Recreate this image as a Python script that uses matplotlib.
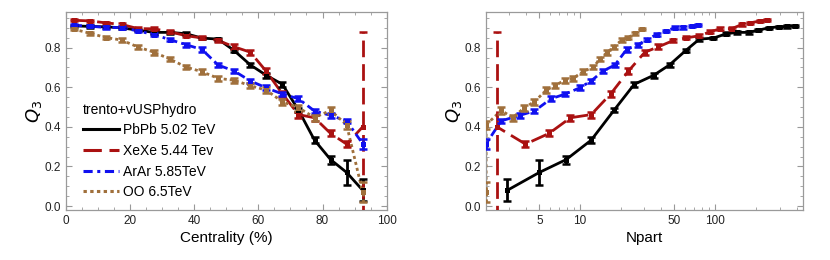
import matplotlib
matplotlib.use("Agg")
import matplotlib.pyplot as plt
from matplotlib.lines import Line2D
from matplotlib.ticker import FixedLocator, NullFormatter, FixedFormatter
import numpy as np

plt.rcParams['font.family'] = ['Liberation Sans', 'DejaVu Sans']

centrality = [2.5, 7.5, 12.5, 17.5, 22.5, 27.5, 32.5, 37.5, 42.5, 47.5,
              52.5, 57.5, 62.5, 67.5, 72.5, 77.5, 82.5, 87.5, 92.5]

labels = ["PbPb 5.02 TeV", "XeXe 5.44 Tev", "ArAr 5.85TeV", "OO 6.5TeV"]

q3_pbpb = [0.910, 0.907, 0.905, 0.900, 0.888, 0.877, 0.877, 0.870, 0.848, 0.843,
           0.785, 0.713, 0.660, 0.615, 0.485, 0.333, 0.235, 0.170, 0.080]
err_pbpb = [0.006, 0.006, 0.006, 0.006, 0.006, 0.006, 0.006, 0.007, 0.007, 0.008,
            0.009, 0.010, 0.012, 0.012, 0.012, 0.015, 0.020, 0.065, 0.055]
npart_pbpb = [392, 340, 295, 249, 209, 177, 145, 121, 97, 76.5,
              60.5, 46, 35, 25.2, 17.9, 12.1, 7.9, 5.0, 2.9]

q3_xexe = [0.938, 0.935, 0.925, 0.917, 0.896, 0.895, 0.880, 0.860, 0.849, 0.836,
           0.804, 0.777, 0.680, 0.567, 0.462, 0.446, 0.367, 0.313, 0.400]
err_xexe = [0.005, 0.005, 0.006, 0.006, 0.007, 0.008, 0.008, 0.008, 0.008, 0.010,
            0.012, 0.012, 0.015, 0.015, 0.015, 0.015, 0.015, 0.015, 0.480]
npart_xexe = [242, 216, 182, 158, 133, 109, 92, 76.5, 61, 49,
              38, 30.2, 22.7, 16.9, 12.1, 8.5, 5.9, 3.95, 2.43]

q3_arar = [0.913, 0.908, 0.902, 0.901, 0.884, 0.866, 0.840, 0.815, 0.790, 0.712,
           0.682, 0.632, 0.597, 0.566, 0.542, 0.480, 0.458, 0.430, 0.315]
err_arar = [0.006, 0.006, 0.006, 0.006, 0.007, 0.008, 0.009, 0.010, 0.011, 0.012,
            0.012, 0.012, 0.012, 0.012, 0.012, 0.012, 0.012, 0.012, 0.025]
npart_arar = [74.3, 67.1, 58.2, 50.4, 43.3, 36.9, 31.1, 27, 22.1, 18.1,
              14.8, 12.1, 9.95, 7.8, 6.1, 4.6, 3.57, 2.61, 2.02]

q3_oo = [0.893, 0.873, 0.851, 0.838, 0.803, 0.777, 0.742, 0.702, 0.678, 0.645,
         0.635, 0.608, 0.585, 0.527, 0.497, 0.447, 0.483, 0.410, 0.070]
err_oo = [0.006, 0.008, 0.008, 0.010, 0.010, 0.012, 0.012, 0.012, 0.012, 0.014,
          0.014, 0.014, 0.014, 0.015, 0.015, 0.015, 0.018, 0.020, 0.050]
npart_oo = [28.6, 25.6, 22.8, 20.3, 17.8, 15.9, 14.1, 12.5, 10.5, 8.87,
            7.7, 6.49, 5.62, 4.6, 3.88, 3.18, 2.61, 2.02, 2.02]

colors = ["#000000", "#AA1111", "#1010F0", "#A0703C"]
styles = ["-", (0, (6, 2.5)), (0, (3, 1.5, 1, 1.5)), (0, (1.1, 1.1))]

series = [(q3_pbpb, err_pbpb, npart_pbpb),
          (q3_xexe, err_xexe, npart_xexe),
          (q3_arar, err_arar, npart_arar),
          (q3_oo, err_oo, npart_oo)]

fig = plt.figure(figsize=(8.3, 2.6), dpi=100)
axL = fig.add_axes([0.079, 0.192, 0.387, 0.762])
axR = fig.add_axes([0.585, 0.192, 0.383, 0.762])

def draw(ax, xkey):
    for (q, e, n), c, ls in zip(series, colors, styles):
        x = centrality if xkey == 0 else n
        ax.plot(x, q, color=c, lw=2.0, ls=ls, zorder=2)
        eb = ax.errorbar(x, q, yerr=e, fmt='none', ecolor=c, elinewidth=2.0,
                         capsize=2.6, capthick=1.8, zorder=3)
        for lc in eb[2]:
            lc.set_linestyle(ls)
        ax.plot(x, q, ls='none', marker='s', ms=3.6, color=c, mew=0, zorder=4)

draw(axL, 0)
draw(axR, 1)

for ax in (axL, axR):
    ax.set_ylim(-0.02, 0.98)
    ax.set_yticks([0.0, 0.2, 0.4, 0.6, 0.8])
    ax.set_yticklabels(["0.0", "0.2", "0.4", "0.6", "0.8"])
    ax.yaxis.set_minor_locator(FixedLocator(np.arange(0.0, 0.98, 0.05)))
    ax.tick_params(which='both', direction='in', top=True, right=True,
                   color='#999999', labelsize=8.5, labelcolor='#222222')
    ax.tick_params(which='major', length=4, width=0.8)
    ax.tick_params(which='minor', length=2, width=0.6)
    for s in ax.spines.values():
        s.set_color('#9a9a9a')
        s.set_linewidth(0.9)
    ax.set_ylabel(r"$Q_3$", fontsize=13, labelpad=0)

axL.set_xlim(0, 100)
axL.set_xticks([0, 20, 40, 60, 80, 100])
axL.xaxis.set_minor_locator(FixedLocator(np.arange(0, 101, 5)))
axL.set_xlabel("Centrality (%)", fontsize=11, labelpad=3)

axR.set_xscale('log')
axR.set_xlim(2, 450)
axR.xaxis.set_major_locator(FixedLocator([5, 10, 50, 100]))
axR.xaxis.set_major_formatter(FixedFormatter(["5", "10", "50", "100"]))
minors = [2, 3, 4, 6, 7, 8, 9, 20, 30, 40, 60, 70, 80, 90, 200, 300, 400]
axR.xaxis.set_minor_locator(FixedLocator(minors))
axR.xaxis.set_minor_formatter(NullFormatter())
axR.set_xlabel("Npart", fontsize=11, labelpad=3)

handles = [Line2D([0], [0], color=c, lw=2.2, ls=ls) for c, ls in zip(colors, styles)]
leg = axL.legend(handles, labels, title="trento+vUSPhydro", loc='lower left',
                 bbox_to_anchor=(0.04, 0.03), frameon=False, fontsize=10,
                 title_fontsize=10, handlelength=2.6, handletextpad=0.25,
                 labelspacing=0.48, borderpad=0.15, borderaxespad=0.2,
                 alignment='left')

fig.savefig("out.png", dpi=100)
